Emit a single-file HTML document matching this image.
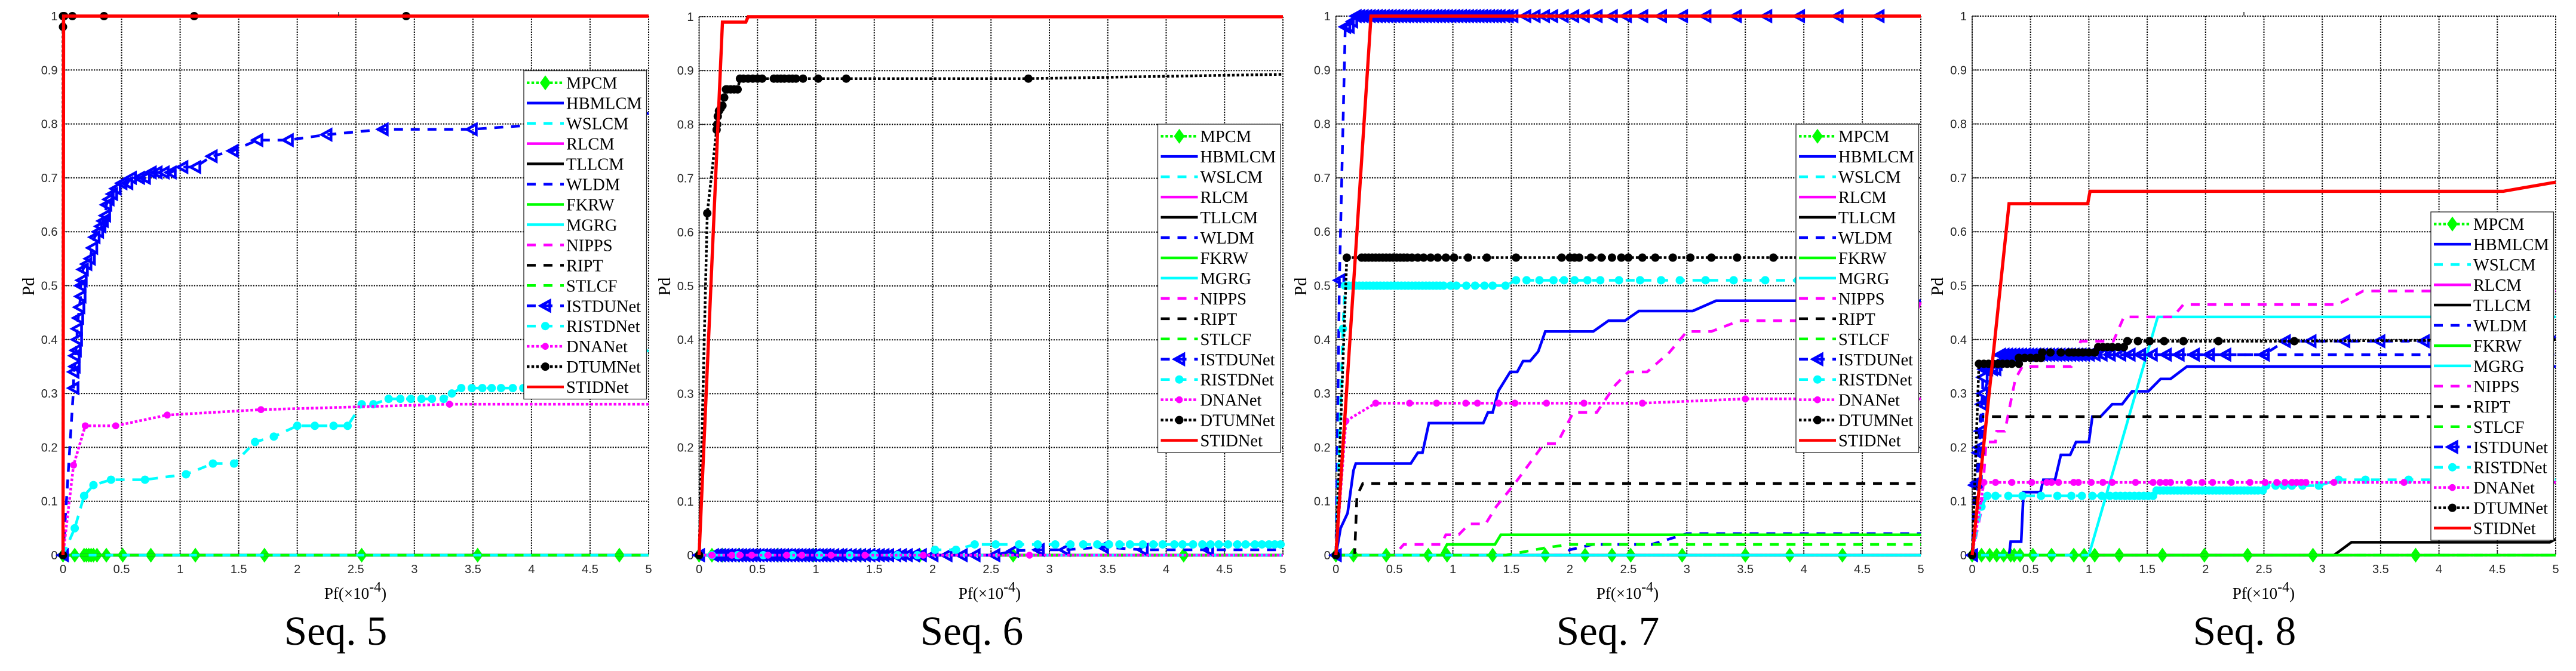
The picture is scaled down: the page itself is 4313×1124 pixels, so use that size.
<!DOCTYPE html>
<html lang="en">
<head>
<meta charset="utf-8">
<title>Pd-Pf curves for Seq. 5 to Seq. 8</title>
<style>
html,body{margin:0;padding:0;background:#fff;}
svg{display:block;}
.tick{font-family:"Liberation Sans",sans-serif;font-size:20px;fill:#262626;}
.serif{font-family:"Liberation Serif",serif;fill:#000;}
</style>
</head>
<body>
<svg id="figure" xmlns="http://www.w3.org/2000/svg" width="4313" height="1124" viewBox="0 0 4313 1124">
  <rect x="0" y="0" width="4313" height="1124" fill="#fff"/>
  <g id="panels"></g>
  <g>
    <text class="serif" font-size="29" text-anchor="middle" transform="translate(57 480) rotate(-90)">Pd</text>
    <text class="serif" font-size="29" text-anchor="middle" transform="translate(1122 480) rotate(-90)">Pd</text>
    <text class="serif" font-size="29" text-anchor="middle" transform="translate(2187 480) rotate(-90)">Pd</text>
    <text class="serif" font-size="29" text-anchor="middle" transform="translate(3253 480) rotate(-90)">Pd</text>
    <text class="serif" font-size="27" text-anchor="middle" x="595" y="1003">Pf(×10<tspan font-size="24" dy="-12">-4</tspan><tspan dy="12">)</tspan></text>
    <text class="serif" font-size="27" text-anchor="middle" x="1657" y="1003">Pf(×10<tspan font-size="24" dy="-12">-4</tspan><tspan dy="12">)</tspan></text>
    <text class="serif" font-size="27" text-anchor="middle" x="2725" y="1003">Pf(×10<tspan font-size="24" dy="-12">-4</tspan><tspan dy="12">)</tspan></text>
    <text class="serif" font-size="27" text-anchor="middle" x="3790" y="1003">Pf(×10<tspan font-size="24" dy="-12">-4</tspan><tspan dy="12">)</tspan></text>
    <text class="serif" font-size="69" text-anchor="middle" x="562" y="1080">Seq. 5</text>
    <text class="serif" font-size="69" text-anchor="middle" x="1627" y="1080">Seq. 6</text>
    <text class="serif" font-size="69" text-anchor="middle" x="2692" y="1080">Seq. 7</text>
    <text class="serif" font-size="69" text-anchor="middle" x="3758" y="1080">Seq. 8</text>
    <line x1="567" y1="20" x2="567" y2="27" stroke="#262626" stroke-width="1.5"/>
    <line x1="3757" y1="20" x2="3757" y2="26" stroke="#262626" stroke-width="1.5"/>
  </g>
</svg>
<script>
// ---------- categories and tick labels ----------
const methods = ["MPCM","HBMLCM","WSLCM","RLCM","TLLCM","WLDM","FKRW","MGRG","NIPPS","RIPT","STLCF","ISTDUNet","RISTDNet","DNANet","DTUMNet","STIDNet"];
const xTickValues = [0,0.5,1,1.5,2,2.5,3,3.5,4,4.5,5];
const xTickLabels = ["0","0.5","1","1.5","2","2.5","3","3.5","4","4.5","5"];
const yTickValues = [0,0.1,0.2,0.3,0.4,0.5,0.6,0.7,0.8,0.9,1];
const yTickLabels = ["0","0.1","0.2","0.3","0.4","0.5","0.6","0.7","0.8","0.9","1"];

// ---------- Seq. 5 series (rows follow `methods`; a short y row holds its last value) ----------
const seq5X = [
 [0,.1,.18,.2,.22,.24,.26,.29,.37,.51,.75,1.13,1.72,2.55,3.54,4.75,5],
 [0,5],[0,5],[0,5],[0,5],[0,5],[0,5],[0,5],[0,5],[0,5],[0,5],
 [0,.09,.09,.1,.1,.11,.12,.12,.13,.14,.15,.15,.16,.17,.2,.23,.25,.27,.3,.32,.34,.36,.37,.39,.42,.45,.5,.55,.58,.65,.7,.75,.8,.86,.92,1.02,1.13,1.27,1.45,1.66,1.92,2.25,2.73,3.49,4.8,5],
 [0,.1,.18,.26,.41,.7,1.05,1.28,1.46,1.64,1.8,2,2.15,2.31,2.43,2.55,2.65,2.78,2.88,2.97,3.06,3.15,3.25,3.32,3.4,3.49,3.58,3.66,3.74,3.84,3.93,4.2,4.5,5],
 [0,.09,.19,.45,.89,1.69,3.3,5],
 [0,0,0,.01,.08,.35,1.12,2.93,5],
 [0,.005,5]
];
const seq5Y = [
 [0],
 [0,0],[0,0],[0,0],[0,0],[0,0],[0,0],[0,0],[0,0],[0,0],[0,0],
 [0,.31,.34,.35,.37,.38,.4,.42,.44,.46,.48,.5,.51,.53,.54,.55,.57,.59,.6,.61,.62,.63,.65,.66,.67,.68,.69,.69,.7,.7,.7,.71,.71,.71,.71,.72,.72,.74,.75,.77,.77,.78,.79,.79,.81,.82],
 [0,.05,.11,.13,.14,.14,.15,.17,.17,.21,.22,.24,.24,.24,.24,.28,.28,.29,.29,.29,.29,.29,.29,.3,.31,.31,.31,.31,.31,.31,.31,.31,.33,.38],
 [0,.167,.24,.24,.26,.27,.28,.28],
 [0,.98,1,1,1,1,1,1,1],
 [0,1,1]
];

// ---------- Seq. 6 series ----------
const seq6X = [
 [0,.11,.2,.34,.67,.98,1.38,1.89,2.69,4.15,5],
 [0,5],[0,5],[0,5],[0,5],[0,5],[0,5],[0,5],[0,5],[0,5],[0,5],
 [0,.12,.15,.18,.21,.24,.27,.3,.33,.36,.39,.42,.45,.48,.51,.54,.57,.6,.63,.66,.69,.72,.75,.78,.81,.84,.87,.9,.93,.96,.99,1.02,1.05,1.08,1.11,1.15,1.19,1.22,1.26,1.3,1.34,1.38,1.42,1.46,1.5,1.54,1.58,1.62,1.68,1.73,1.78,1.84,1.9,2,2.12,2.25,2.36,2.53,
  2.69,2.91,3.13,3.46,3.8,4.36,5],
 [0,.11,.33,.55,.8,1.03,1.29,1.5,1.7,1.87,
  2.02,2.2,
  2.36,2.54,2.74,2.9,3.05,3.18,3.29,3.41,3.51,3.6,3.69,3.8,3.89,3.97,4.07,4.14,4.23,4.31,4.38,4.45,4.53,4.61,4.68,4.76,4.82,4.88,4.93,4.98],
 [0,.11,.28,.35,.45,.59,.75,.88,1.13,1.42,1.92,2.83,5],
 [0,.07,.15,.155,.16,.17,.185,.2,.215,.23,.24,.27,.3,.33,.35,.38,.42,.46,.5,.54,.64,.67,.7,.73,.77,.8,.83,.89,1.02,1.26,2.82,5],
 [0,.2,.4,.42,5]
];
const seq6Y = [
 [0],
 [0,0],[0,0],[0,0],[0,0],[0,0],[0,0],[0,0],[0,0],[0,0],[0,0],
 [0,0,0,0,0,0,0,0,0,0,0,0,0,0,0,0,0,0,0,0,0,0,0,0,0,0,0,0,0,0,0,0,0,0,0,0,0,0,0,0,0,0,0,0,0,0,0,0,0,0,0,0,0,0,0,0,0,0,
  .008,.01,.01,.015,.01,.01,.01],
 [0,0,0,0,0,0,0,0,0,0,
  .01,.01,
  .02],
 [0],
 [0,.635,.79,.8,.815,.825,.83,.835,.85,.865,.865,.865,.865,.865,.885,.885,.885,.885,.885,.885,.885,.885,.885,.885,.885,.885,.885,.885,.885,.885,.885,.893],
 [0,.99,.99,1,1]
];

// ---------- Seq. 7 series ----------
const seq7X = [
 [0,.15,.43,.79,.95,1.34,1.79,2.13,2.36,2.52,2.96,3.5,3.88,4.33,5],
 [0,.04,.1,.15,.17,.64,.7,.74,.795,1.26,1.3,1.34,1.39,1.49,1.55,1.6,1.66,1.73,1.79,2.2,2.33,2.47,2.59,3.05,3.25,5],
 [0,5],[0,5],[0,5],
 [0,1.95,2,2.2,2.7,2.85,3,3.3,5],
 [0,.9,.95,1.36,1.41,5],
 [0,5],
 [0,.5,.58,.9,.94,1.05,1.14,1.28,1.37,1.53,1.78,1.89,2.03,2.23,2.39,2.5,2.66,2.85,3,3.21,3.45,4.93,5],
 [0,.16,.18,.23,5],
 [0,1.45,1.8,2,5],
 [0,.03,.08,.11,.14,.17,.2,.23,.26,.29,.32,.35,.38,.41,.44,.47,.5,.53,.56,.59,.62,.65,.68,.71,.74,.77,.8,.83,.86,.89,.92,.95,.98,1.01,1.04,1.07,1.1,1.13,1.16,1.19,1.22,1.25,1.28,1.31,1.34,1.37,1.4,1.44,1.47,1.51,1.62,1.7,1.78,1.85,1.94,2.03,2.12,2.23,2.36,2.48,2.62,2.78,2.96,3.16,3.42,3.68,3.96,4.29,4.64,5],
 [0,.06,.077,.11,.14,.17,.2,.23,.26,.29,.32,.35,.38,.41,.44,.47,.5,.53,.56,.59,.62,.65,.68,.71,.74,.77,.8,.83,.86,.89,.92,.98,1.03,1.115,1.19,1.27,1.34,1.45,
  1.54,1.63,1.74,1.86,1.95,2.04,2.15,2.26,2.42,2.6,2.78,2.94,3.16,3.4,3.67,3.95,5],
 [0,.086,.34,.63,.86,1.11,1.21,1.39,1.53,1.8,2.12,2.62,3.5,4.2,5],
 [0,.093,.22,.25,.28,.31,.34,.37,.4,.43,.46,.49,.52,.55,.58,.61,.65,.7,.75,.81,.87,.94,1.01,1.13,1.29,1.54,1.93,2,2.04,2.08,2.18,2.27,2.36,2.44,2.5,2.62,2.73,2.88,3.03,3.21,3.43,3.74,4.1,5],
 [0,.3,5]
];
const seq7Y = [
 [0],
 [0,.05,.078,.157,.17,.17,.19,.19,.245,.245,.265,.265,.305,.34,.34,.36,.36,.378,.415,.415,.435,.435,.453,.453,.472,.472],
 [0,0],[0,0],[0,0],
 [0,0,.01,.02,.02,.03,.04,.04,.04],
 [0,0,.02,.02,.038,.038],
 [0,0],
 [0,0,.02,.02,.038,.038,.058,.058,.09,.133,.207,.207,.265,.265,.316,.34,.34,.376,.415,.415,.435,.435,.47],
 [0,0,.11,.133,.133],
 [0,0,.014,.02,.02],
 [0,.51,.98,.98,.99,1],
 [0,.42,.5,.5,.5,.5,.5,.5,.5,.5,.5,.5,.5,.5,.5,.5,.5,.5,.5,.5,.5,.5,.5,.5,.5,.5,.5,.5,.5,.5,.5,.5,.5,.5,.5,.5,.5,.5,
  .51],
 [0,.249,.282,.282,.282,.282,.282,.282,.282,.282,.282,.282,.29,.29,.29],
 [0,.552],
 [0,1,1]
];

// ---------- Seq. 8 series ----------
const seq8X = [
 [0,.08,.15,.21,.27,.33,.36,.41,.52,.68,.87,.96,1.05,1.26,1.63,1.99,2.36,2.92,3.8,5],
 [0,.316,.33,.42,.44,.585,.61,.71,.76,.84,.89,1,1.03,1.1,1.2,1.285,1.37,1.51,1.615,1.7,1.84,5],
 [0,5],[0,5],
 [0,3.1,3.25,4.95,5],
 [0,.08,.1,.2,5],
 [0,5],
 [0,1,1.59,5],
 [0,.08,.12,.2,.21,.28,.37,.43,.85,.93,1.21,1.3,1.72,1.81,3.13,3.35,5],
 [0,.07,5],
 [0,5],
 [0,.02,.04,.05,.06,.07,.08,.09,.09,.1,.13,.17,.2,.21,
  .24,.27,.3,.33,.36,.39,.42,.45,.48,.51,.54,.57,.6,.63,.66,.69,.72,.75,.78,.81,.84,.87,.9,.93,.96,1,1.05,1.11,1.18,1.27,1.35,1.44,1.54,1.66,1.77,1.9,2.03,2.17,2.5,
  2.68,2.9,3.19,3.49,3.87,5],
 [0,.08,
  .13,.2,.31,.43,.59,.73,.85,.94,1.03,1.11,1.18,1.23,1.27,1.31,1.35,1.39,1.43,1.47,1.51,1.55,
  1.58,1.61,1.64,1.67,1.7,1.73,1.76,1.79,1.82,1.85,1.88,1.91,1.94,1.97,2,2.03,2.06,2.09,2.12,2.15,2.18,2.21,2.24,2.27,2.3,2.33,2.36,2.39,2.42,2.45,2.49,
  2.52,2.6,2.67,2.74,2.83,2.97,
  3.14,3.37,3.74,5],
 [0,.1,.2,.34,.51,.64,.68,.74,.87,.91,1.02,1.12,1.2,1.4,1.55,1.61,1.66,1.7,1.86,1.97,2.06,2.22,2.38,2.51,2.61,2.68,2.74,2.78,2.82,2.86,3.1,3.7,4.3,5],
 [0,.058,.1,.14,.18,.22,.26,.3,.34,.4,
  .4,.45,.5,.55,.59,
  .6,.67,.76,.83,.87,.91,.95,1,1.05,
  1.08,1.12,1.16,1.2,1.25,1.3,
  1.33,1.42,1.52,1.645,1.81,2.11,2.76,5],
 [0,.316,.99,1.01,4.55,5]
];
const seq8Y = [
 [0],
 [0,0,.025,.025,.117,.117,.14,.14,.186,.186,.21,.21,.257,.257,.28,.28,.304,.304,.327,.327,.35,.35],
 [0,0],[0,0],
 [0,0,.024,.024,.03],
 [0,.2,.3,.372,.372],
 [0,0],
 [0,0,.442,.442],
 [0,.085,.21,.21,.23,.23,.327,.35,.35,.397,.397,.442,.442,.465,.465,.49,.49],
 [0,.257,.257],
 [0,0],
 [0,.13,.135,.19,.2,.23,.28,.3,.33,.345,.345,.345,.345,.355,
  .372,.372,.372,.372,.372,.372,.372,.372,.372,.372,.372,.372,.372,.372,.372,.372,.372,.372,.372,.372,.372,.372,.372,.372,.372,.372,.372,.372,.372,.372,.372,.372,.372,.372,.372,.372,.372,.372,.372,
  .397,.397,.397,.397,.397,.405],
 [0,.09,
  .11,.11,.11,.11,.11,.11,.11,.11,.11,.11,.11,.11,.11,.11,.11,.11,.11,.11,.11,.11,
  .12,.12,.12,.12,.12,.12,.12,.12,.12,.12,.12,.12,.12,.12,.12,.12,.12,.12,.12,.12,.12,.12,.12,.12,.12,.12,.12,.12,.12,.12,.12,
  .129,.129,.129,.129,.129,.129,
  .14,.14,.14,.14],
 [0,.135],
 [0,.355,.355,.355,.355,.355,.355,.355,.355,.355,
  .366,.366,.366,.366,.366,
  .376,.376,.376,.376,.376,.376,.376,.376,.376,
  .386,.386,.386,.386,.386,.386,
  .397,.397,.397,.397,.397,.397,.397,.4],
 [0,.652,.652,.675,.675,.692]
];

// ---------- appearance and layout (not data) ----------
const BLUE='#0000ff', CYAN='#00ffff', MAGENTA='#ff00ff', GREEN='#00ff00', RED='#ff0000', BLACK='#000000';
const DOTTED='4.5 3.3', DASHED='15 13';
const seriesColors = [GREEN,BLUE,CYAN,MAGENTA,BLACK,BLUE,GREEN,CYAN,MAGENTA,BLACK,GREEN,BLUE,CYAN,MAGENTA,BLACK,RED];
const seriesDashes = [DOTTED,null,DASHED,null,null,DASHED,null,null,DASHED,DASHED,DASHED,DASHED,DASHED,DOTTED,DOTTED,null];
const seriesMarkers = ['diamond',null,null,null,null,null,null,null,null,null,null,'triangle','circle','small-circle','circle',null];
const panelFrames = [
 {key:'seq5',left:105.5,right:1086,top:27,bottom:930,legendX:877,legendY:118.5,xs:seq5X,ys:seq5Y},
 {key:'seq6',left:1170.5,right:2148,top:28,bottom:930,legendX:1938.5,legendY:208,xs:seq6X,ys:seq6Y},
 {key:'seq7',left:2236.7,right:3216,top:27,bottom:930,legendX:3007,legendY:208,xs:seq7X,ys:seq7Y},
 {key:'seq8',left:3302,right:4279,top:27,bottom:930,legendX:4070,legendY:355,xs:seq8X,ys:seq8Y}
];
const X_MAX = 5, Y_MAX = 1;
const SVG_NS = 'http://www.w3.org/2000/svg';

function make(tag, attrs, parent){
  const node = document.createElementNS(SVG_NS, tag);
  for (const k in attrs) node.setAttribute(k, attrs[k]);
  parent.appendChild(node);
  return node;
}
function xAxis(f, v){ return f.left + (v / X_MAX) * (f.right - f.left); }
function yAxis(f, v){ return f.bottom - (v / Y_MAX) * (f.bottom - f.top); }

function drawMarker(kind, color, px, py, parent, label){
  let el;
  if (kind === 'diamond'){
    el = make('polygon',{points:[[px-9,py],[px,py-12.5],[px+9,py],[px,py+12.5]].join(' '),fill:color},parent);
  } else if (kind === 'triangle'){
    el = make('polygon',{points:[[px-8,py],[px+7.5,py-8.5],[px+7.5,py+8.5]].join(' '),fill:'none',stroke:color,'stroke-width':4.6,'stroke-linejoin':'miter'},parent);
  } else if (kind === 'circle'){
    el = make('circle',{cx:px,cy:py,r:7,fill:color},parent);
  } else {
    el = make('circle',{cx:px,cy:py,r:5.8,fill:color},parent);
  }
  
  
  return el;
}

function drawGrid(f, g){
  xTickValues.forEach(function(v, i){
    const px = xAxis(f, v);
    const gridLine = make('line',{x1:px,y1:f.top,x2:px,y2:f.bottom,stroke:'#000','stroke-width':2,'stroke-dasharray':'2.2 2.1'},g);
    
    
    const tick = make('line',{x1:px,y1:f.bottom,x2:px,y2:f.bottom-9,stroke:'#262626','stroke-width':1.3},g);
    
    
    const label = make('text',{x:px,y:960,'text-anchor':'middle','class':'tick'},g);
    
    
    label.textContent = xTickLabels[i];
  });
  yTickValues.forEach(function(v, i){
    const py = yAxis(f, v);
    const gridLine = make('line',{x1:f.left,y1:py,x2:f.right,y2:py,stroke:'#000','stroke-width':2,'stroke-dasharray':'2.2 2.1'},g);
    
    
    const tick = make('line',{x1:f.left,y1:py,x2:f.left+9,y2:py,stroke:'#262626','stroke-width':1.3},g);
    
    
    const label = make('text',{x:f.left-9,y:py+7,'text-anchor':'end','class':'tick'},g);
    
    
    label.textContent = yTickLabels[i];
  });
  const frame = make('path',{d:'M'+f.left+' '+f.top+'V'+f.bottom+'H'+f.right,fill:'none',stroke:'#262626','stroke-width':1.2},g);
  
  
}

function drawSeries(f, g){
  methods.forEach(function(name, s){
    const xRow = f.xs[s], yRow = f.ys[s];
    const seriesGroup = make('g',{},g);
    
    
    const pts = xRow.map(function(x, i){
      const y = i < yRow.length ? yRow[i] : yRow[yRow.length - 1];
      return [xAxis(f, x), yAxis(f, y), x];
    });
    const attrs = {points:pts.map(function(p){return p[0].toFixed(2)+','+p[1].toFixed(2);}).join(' '),fill:'none',stroke:seriesColors[s],'stroke-width':s===15?5.4:4.5,'stroke-linejoin':'miter','stroke-miterlimit':3};
    if (seriesDashes[s]) attrs['stroke-dasharray'] = seriesDashes[s];
    const line = make('polyline',attrs,seriesGroup);
    
    
    if (seriesMarkers[s]){
      pts.forEach(function(p){
        if (p[2] < X_MAX) drawMarker(seriesMarkers[s], seriesColors[s], p[0], p[1], seriesGroup, 'marker-' + name.toLowerCase());
      });
    }
  });
}

function drawLegend(f, g){
  const box = make('g',{},g);
  
  
  const bg = make('rect',{x:f.legendX,y:f.legendY,width:205.5,height:550,fill:'#fff',stroke:'#262626','stroke-width':1.3},box);
  
  
  methods.forEach(function(name, s){
    const cy = f.legendY + 20.2 + s * 33.96;
    const entry = make('g',{},box);
    
    
    const attrs = {x1:f.legendX+5,y1:cy,x2:f.legendX+67,y2:cy,stroke:seriesColors[s],'stroke-width':4.5};
    if (seriesDashes[s]) attrs['stroke-dasharray'] = seriesDashes[s];
    const sample = make('line',attrs,entry);
    
    
    if (seriesMarkers[s]) drawMarker(seriesMarkers[s], seriesColors[s], f.legendX+36, cy, entry, 'legend-marker');
    const label = make('text',{x:f.legendX+71,y:cy+10,'font-size':28.5,'class':'serif'},entry);
    
    
    label.textContent = name;
  });
}

const root = document.getElementById('panels');
panelFrames.forEach(function(f){
  const panel = make('g',{},root);
  
  
  drawGrid(f, panel);
  drawSeries(f, panel);
  drawLegend(f, panel);
});
</script>
</body>
</html>
